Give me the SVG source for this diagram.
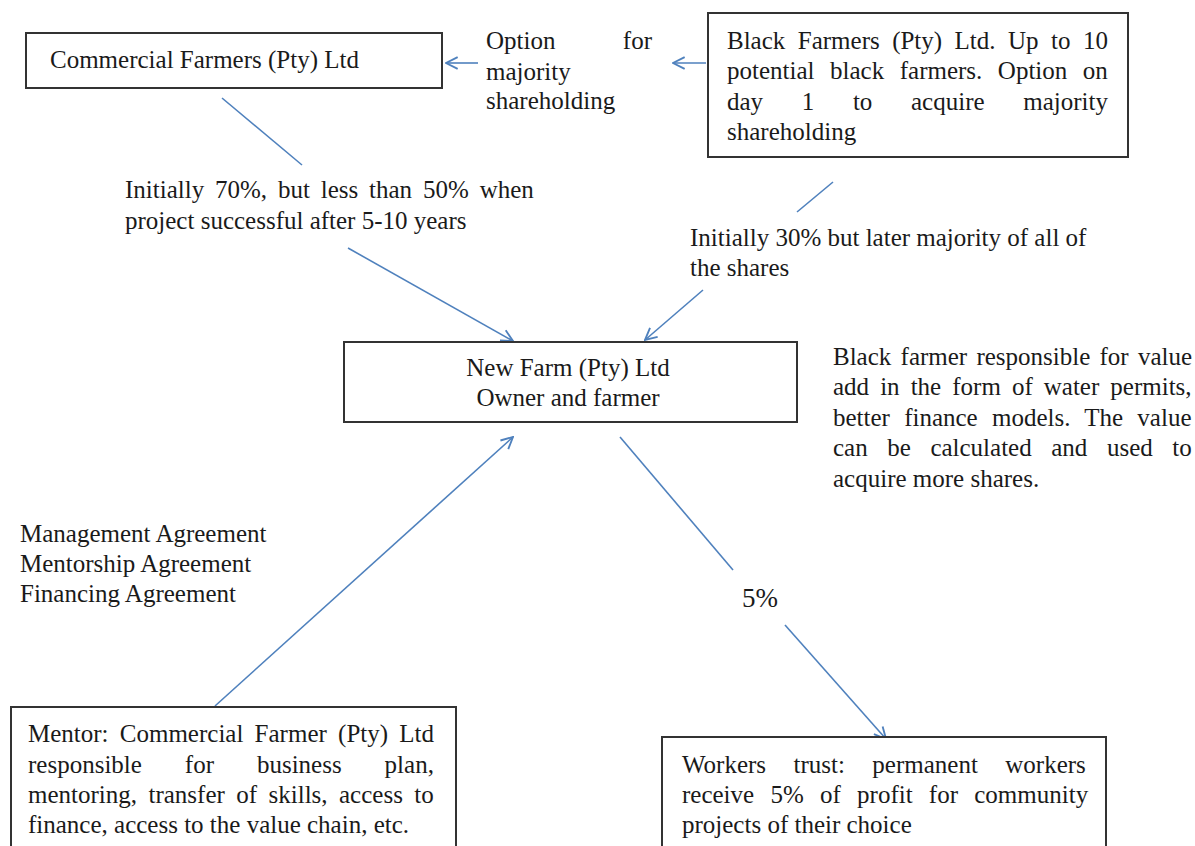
<svg xmlns="http://www.w3.org/2000/svg" width="1195" height="846" viewBox="0 0 1195 846" font-family="'Liberation Serif', 'Times New Roman', serif">
<style>
.box{fill:#fff;stroke:#333;stroke-width:2}
text{font-family:"Liberation Serif","Times New Roman",serif;font-size:25px;fill:#1a1a1a}
.c{stroke:#4f81bd;stroke-width:1.6;fill:none}
</style>
<defs>
<marker id="ah" viewBox="0 0 12 12" refX="11" refY="6" markerWidth="14" markerHeight="14" markerUnits="userSpaceOnUse" orient="auto">
<path d="M1,1 L11,6 L1,11" fill="none" stroke="#4f81bd" stroke-width="1.6"/>
</marker>
</defs>
<rect width="1195" height="846" fill="#fff"/>
<g id="connectors">
<line class="c" x1="478" y1="63" x2="446" y2="63" marker-end="url(#ah)"/>
<line class="c" x1="706" y1="63" x2="673" y2="63" marker-end="url(#ah)"/>
<line class="c" x1="222" y1="98" x2="302" y2="165"/>
<line class="c" x1="348" y1="248" x2="513" y2="341" marker-end="url(#ah)"/>
<line class="c" x1="833" y1="182" x2="797" y2="212"/>
<line class="c" x1="703" y1="290" x2="645" y2="340" marker-end="url(#ah)"/>
<line class="c" x1="215" y1="706" x2="513" y2="437" marker-end="url(#ah)"/>
<line class="c" x1="620" y1="437" x2="733" y2="570"/>
<line class="c" x1="785" y1="625" x2="886" y2="739" marker-end="url(#ah)"/>
</g>
<g id="commercial">
<rect class="box" x="26" y="33" width="416" height="55"/>
<text x="50" y="68">Commercial Farmers (Pty) Ltd</text>
</g>
<g id="option-label">
<text x="486" y="49">Option</text>
<text x="652" y="49" text-anchor="end">for</text>
<text x="486" y="80">majority</text>
<text x="486" y="109">shareholding</text>
</g>
<g id="black-farmers">
<rect class="box" x="708" y="13" width="420" height="144"/>
<text x="727" y="49" word-spacing="6.2">Black Farmers (Pty) Ltd. Up to 10</text>
<text x="727" y="79" word-spacing="9.3">potential black farmers. Option on</text>
<text x="727" y="110" word-spacing="32.4">day 1 to acquire majority</text>
<text x="727" y="140">shareholding</text>
</g>
<g id="label-70">
<text x="125" y="198" word-spacing="4.6">Initially 70%, but less than 50% when</text>
<text x="125" y="229">project successful after 5-10 years</text>
</g>
<g id="label-30">
<text x="690" y="246">Initially 30% but later majority of all of</text>
<text x="690" y="276">the shares</text>
</g>
<g id="new-farm">
<rect class="box" x="344" y="342" width="453" height="80"/>
<text x="568" y="376" text-anchor="middle">New Farm (Pty) Ltd</text>
<text x="568" y="406" text-anchor="middle">Owner and farmer</text>
</g>
<g id="value-note">
<text x="833" y="365" word-spacing="3">Black farmer responsible for value</text>
<text x="833" y="395" word-spacing="4.8">add in the form of water permits,</text>
<text x="833" y="426" word-spacing="8">better finance models. The value</text>
<text x="833" y="456" word-spacing="13.3">can be calculated and used to</text>
<text x="833" y="487">acquire more shares.</text>
</g>
<g id="agreements">
<text x="20" y="542">Management Agreement</text>
<text x="20" y="572">Mentorship Agreement</text>
<text x="20" y="602">Financing Agreement</text>
</g>
<g id="pct-label">
<text x="742" y="607" style="font-size:27px">5%</text>
</g>
<g id="mentor">
<rect class="box" x="11" y="707" width="445" height="160"/>
<text x="28" y="742" word-spacing="5">Mentor: Commercial Farmer (Pty) Ltd</text>
<text x="28" y="773" word-spacing="36.7">responsible for business plan,</text>
<text x="28" y="803" word-spacing="5.2">mentoring, transfer of skills, access to</text>
<text x="28" y="833">finance, access to the value chain, etc.</text>
</g>
<g id="workers">
<rect class="box" x="662" y="737" width="444" height="140"/>
<text x="682" y="773" word-spacing="21.2">Workers trust: permanent workers</text>
<text x="682" y="803" word-spacing="10">receive 5% of profit for community</text>
<text x="682" y="833">projects of their choice</text>
</g>
</svg>
